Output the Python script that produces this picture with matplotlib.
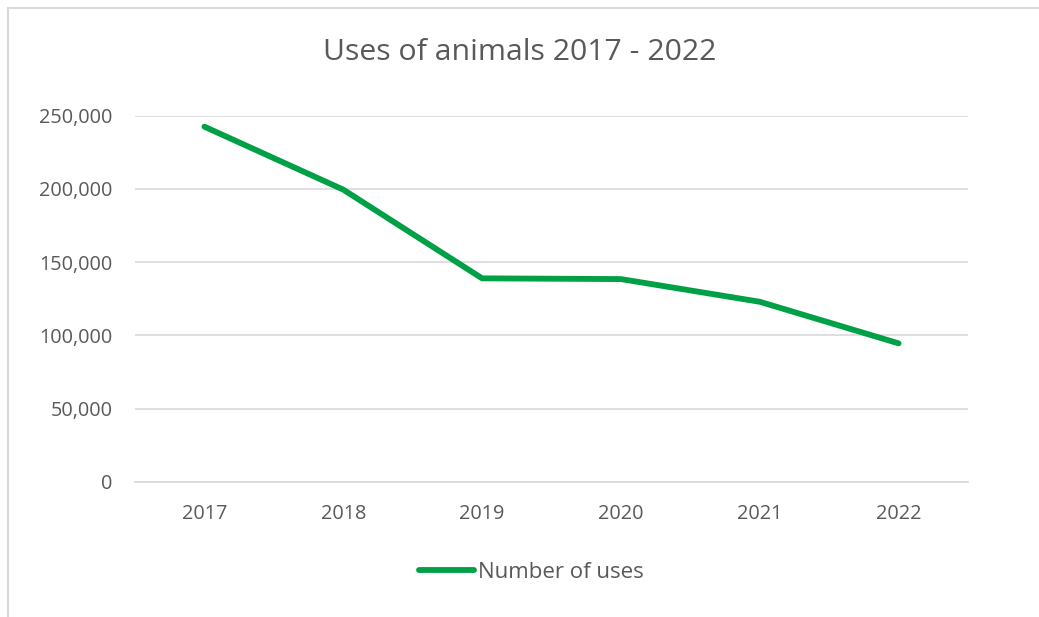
import matplotlib
matplotlib.use("Agg")
import matplotlib.pyplot as plt
from matplotlib.ticker import FuncFormatter
from matplotlib.patches import Rectangle

years = ["2017", "2018", "2019", "2020", "2021", "2022"]
uses = [242500, 199500, 138900, 138400, 122900, 94500]
series_name = "Number of uses"
title = "Uses of animals 2017 - 2022"

plt.rcParams['font.family'] = ['Open Sans', 'DejaVu Sans']
text_color = "#595959"
grid_color = "#d9d9d9"
line_color = "#00a046"

fig = plt.figure(figsize=(10.39, 6.17), dpi=100)
ax = fig.add_axes([135/1039, 135.3/617, (968-135)/1039, (481.7-115.7)/617])

x = list(range(len(years)))
ax.plot(x, uses, color=line_color, linewidth=4.2, solid_capstyle='round',
        solid_joinstyle='round', label=series_name)

ax.set_xlim(-0.5, len(years) - 0.5)
ax.set_ylim(0, 250000)
ax.set_yticks(range(0, 250001, 50000))
ax.yaxis.set_major_formatter(FuncFormatter(lambda v, p: f"{int(v):,}"))
ax.set_xticks(x)
ax.set_xticklabels(years)
ax.grid(axis='y', color=grid_color, linewidth=1.2)
ax.set_axisbelow(True)
for s in ["top", "right", "left"]:
    ax.spines[s].set_visible(False)
ax.spines["bottom"].set_color(grid_color)
ax.spines["bottom"].set_linewidth(1.2)
ax.tick_params(axis='both', length=0, labelsize=14.3, colors=text_color)
ax.tick_params(axis='y', pad=16)
ax.tick_params(axis='x', pad=16)

fig.text(0.5, 1 - 52/617, title, ha='center', va='center', fontsize=21.8, color=text_color)

leg = fig.legend(loc='center', bbox_to_anchor=(531/1039, 1 - 572/617), frameon=False,
                 fontsize=16, labelcolor=text_color, handlelength=2.5, handletextpad=0.15)

fig.patches.append(Rectangle((8/1039, -0.1), 1.2, (1 - 8/617) + 0.1, transform=fig.transFigure,
                             fill=False, edgecolor=grid_color, linewidth=1.5))

fig.savefig("out.png", dpi=100)
